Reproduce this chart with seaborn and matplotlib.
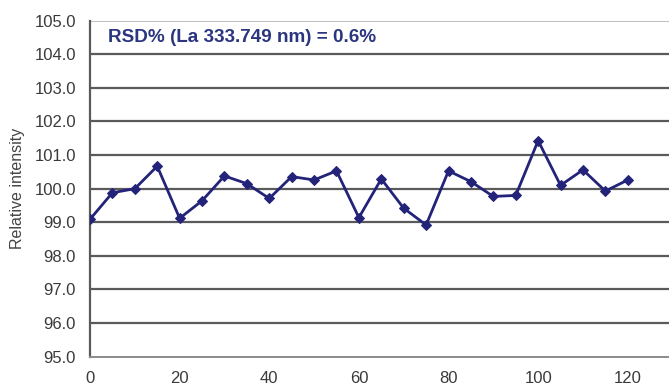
import matplotlib
matplotlib.use("Agg")
import matplotlib.pyplot as plt
import numpy as np
import pandas as pd
import seaborn as sns

# Repeated La 333.749 nm measurements, relative intensity (%)
time_points = [0, 5, 10, 15, 20, 25, 30, 35, 40, 45, 50, 55, 60,
               65, 70, 75, 80, 85, 90, 95, 100, 105, 110, 115, 120]
relative_intensity = [99.09, 99.88, 100.0, 100.67, 99.12, 99.64, 100.38, 100.15,
                      99.71, 100.36, 100.26, 100.53, 99.14, 100.29, 99.42, 98.92,
                      100.53, 100.21, 99.77, 99.80, 101.43, 100.10, 100.56, 99.93,
                      100.26]
y_ticks = [95.0, 96.0, 97.0, 98.0, 99.0, 100.0, 101.0, 102.0, 103.0, 104.0, 105.0]
x_ticks = [0, 20, 40, 60, 80, 100, 120]
annotation = "RSD% (La 333.749 nm) = 0.6%"

df = pd.DataFrame({"time": time_points, "intensity": relative_intensity})

sns.set_theme(style="white")
plt.rcParams["font.family"] = ["Liberation Sans", "DejaVu Sans"]

W, H = 669, 388
fig = plt.figure(figsize=(W / 100, H / 100), dpi=100)
ax = fig.add_axes([90 / W, 31.3 / H, 579 / W, 336 / H])

navy = "#23237a"
grid_c = "#5a5a5a"

# horizontal gridlines
for v in y_ticks[1:-1]:
    ax.axhline(v, color=grid_c, lw=1.6, zorder=1)
ax.axhline(105.0, color="#bdbdbd", lw=1.4, zorder=1)

sns.lineplot(data=df, x="time", y="intensity", ax=ax, color=navy, lw=2.0,
             marker="D", markersize=5, markeredgecolor=navy, zorder=3)

ax.set_xlim(0, 129.2)
ax.set_ylim(95.0, 105.0)
ax.set_xticks(x_ticks)
ax.set_yticks(y_ticks)
ax.set_xticklabels([str(v) for v in x_ticks])
ax.set_yticklabels([f"{v:.1f}" for v in y_ticks])
ax.tick_params(axis="both", colors="#444444", length=4, width=1.2, direction="out")
ax.tick_params(axis="y", labelsize=12, pad=6, labelcolor="#3a3a3a")
ax.tick_params(axis="x", labelsize=12, pad=6, labelcolor="#3a3a3a")
ax.set_xlabel("")
ax.set_ylabel("Relative intensity", fontsize=11.5, color="#444444")
ax.yaxis.set_label_coords(-(90 - 25) / 579, 0.5)

for side in ["top", "right"]:
    ax.spines[side].set_visible(False)
ax.spines["left"].set_color(grid_c)
ax.spines["left"].set_linewidth(1.6)
ax.spines["bottom"].set_color("#8a8a8a")
ax.spines["bottom"].set_linewidth(1.4)

ax.text(108 / W, 1 - 37 / H, annotation, transform=fig.transFigure,
        fontsize=13.6, fontweight="bold", color="#2b3580", va="center", ha="left")

fig.savefig("out.png", dpi=100)
